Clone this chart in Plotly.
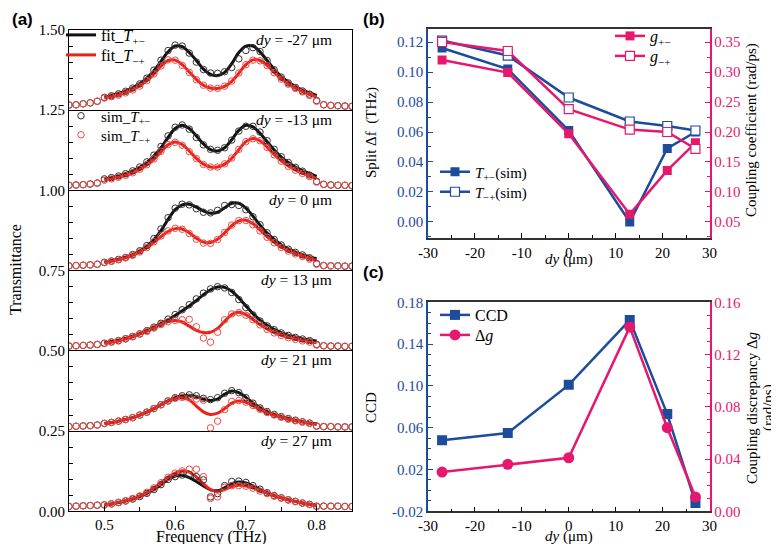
import plotly.graph_objects as go

# ---------------- Panel (a) data ----------------
FREQ_SIM = [0.45, 0.46, 0.47, 0.48, 0.49, 0.50, 0.51, 0.52, 0.53, 0.54, 0.55, 0.56, 0.57, 0.58,
            0.59, 0.60, 0.61, 0.62, 0.63, 0.64, 0.65, 0.66, 0.67, 0.68, 0.69, 0.70, 0.71, 0.72,
            0.73, 0.74, 0.75, 0.76, 0.77, 0.78, 0.79, 0.80, 0.81, 0.82, 0.83, 0.84, 0.85]
FREQ_FIT = [0.50, 0.51, 0.52, 0.53, 0.54, 0.55, 0.56, 0.57, 0.58, 0.59, 0.60, 0.61, 0.62, 0.63,
            0.64, 0.65, 0.66, 0.67, 0.68, 0.69, 0.70, 0.71, 0.72, 0.73, 0.74, 0.75, 0.76, 0.77,
            0.78, 0.79, 0.80]
FREQ_TICKS = [0.5, 0.6, 0.7, 0.8]

DY_LABELS = ["-27", "-13", "0", "13", "21", "27"]
OFFSETS = [1.25, 1.00, 0.75, 0.50, 0.25, 0.00]

FIT_PM = [
    [0.041, 0.046, 0.052, 0.060, 0.070, 0.083, 0.100, 0.123, 0.152, 0.182, 0.200, 0.198, 0.180, 0.155, 0.128, 0.112,
     0.108, 0.118, 0.145, 0.180, 0.200, 0.200, 0.182, 0.155, 0.128, 0.105, 0.088, 0.074, 0.063, 0.054, 0.046],
    [0.036, 0.040, 0.045, 0.052, 0.061, 0.072, 0.087, 0.107, 0.133, 0.165, 0.193, 0.203, 0.193, 0.170, 0.145, 0.127,
     0.123, 0.133, 0.158, 0.187, 0.203, 0.198, 0.178, 0.152, 0.126, 0.104, 0.087, 0.073, 0.062, 0.052, 0.044],
    [0.027, 0.031, 0.036, 0.042, 0.050, 0.061, 0.076, 0.097, 0.125, 0.160, 0.190, 0.205, 0.207, 0.198, 0.186, 0.179,
     0.182, 0.196, 0.210, 0.210, 0.195, 0.170, 0.142, 0.117, 0.097, 0.081, 0.068, 0.058, 0.050, 0.043, 0.037],
    [0.025, 0.029, 0.033, 0.039, 0.046, 0.054, 0.064, 0.074, 0.085, 0.096, 0.110, 0.125, 0.140, 0.157, 0.175, 0.190,
     0.199, 0.198, 0.186, 0.165, 0.140, 0.116, 0.096, 0.080, 0.067, 0.057, 0.049, 0.043, 0.038, 0.034, 0.031],
    [0.024, 0.027, 0.031, 0.036, 0.042, 0.050, 0.059, 0.070, 0.082, 0.094, 0.104, 0.110, 0.112, 0.108, 0.100, 0.095,
     0.100, 0.115, 0.125, 0.120, 0.105, 0.088, 0.073, 0.061, 0.052, 0.045, 0.039, 0.034, 0.029, 0.025, 0.022],
    [0.020, 0.023, 0.027, 0.032, 0.038, 0.046, 0.056, 0.068, 0.083, 0.099, 0.110, 0.112, 0.105, 0.093, 0.079, 0.067,
     0.064, 0.073, 0.086, 0.091, 0.088, 0.079, 0.068, 0.058, 0.049, 0.042, 0.036, 0.031, 0.026, 0.022, 0.019],
]
FIT_MP = [
    [0.038, 0.042, 0.048, 0.055, 0.064, 0.076, 0.092, 0.112, 0.137, 0.155, 0.156, 0.142, 0.119, 0.096, 0.078, 0.069,
     0.068, 0.074, 0.090, 0.115, 0.142, 0.157, 0.155, 0.140, 0.118, 0.098, 0.082, 0.069, 0.058, 0.049, 0.042],
    [0.032, 0.036, 0.041, 0.047, 0.055, 0.065, 0.079, 0.097, 0.120, 0.142, 0.151, 0.143, 0.123, 0.100, 0.082, 0.073,
     0.073, 0.082, 0.100, 0.127, 0.152, 0.162, 0.155, 0.135, 0.112, 0.092, 0.076, 0.064, 0.054, 0.045, 0.037],
    [0.025, 0.029, 0.034, 0.040, 0.048, 0.058, 0.071, 0.088, 0.106, 0.122, 0.131, 0.130, 0.118, 0.101, 0.089, 0.088,
     0.098, 0.118, 0.140, 0.155, 0.157, 0.146, 0.127, 0.106, 0.088, 0.073, 0.062, 0.053, 0.045, 0.038, 0.032],
    [0.023, 0.027, 0.031, 0.037, 0.044, 0.052, 0.061, 0.071, 0.082, 0.091, 0.095, 0.090, 0.077, 0.064, 0.057, 0.058,
     0.070, 0.092, 0.113, 0.120, 0.113, 0.098, 0.082, 0.068, 0.057, 0.049, 0.042, 0.037, 0.032, 0.028, 0.025],
    [0.024, 0.027, 0.031, 0.036, 0.042, 0.050, 0.059, 0.070, 0.082, 0.093, 0.101, 0.104, 0.097, 0.078, 0.060, 0.052,
     0.056, 0.070, 0.087, 0.094, 0.090, 0.079, 0.067, 0.057, 0.049, 0.043, 0.037, 0.032, 0.028, 0.024, 0.021],
    [0.020, 0.023, 0.028, 0.033, 0.040, 0.048, 0.059, 0.073, 0.089, 0.106, 0.119, 0.126, 0.122, 0.107, 0.086, 0.068,
     0.062, 0.068, 0.077, 0.081, 0.079, 0.073, 0.064, 0.056, 0.048, 0.042, 0.036, 0.031, 0.026, 0.022, 0.019],
]
SIM_PM = [
    [0.016, 0.017, 0.020, 0.023, 0.028,
     0.040, 0.045, 0.051, 0.059, 0.069, 0.082, 0.100, 0.125, 0.156, 0.186, 0.203, 0.200, 0.178, 0.150, 0.127, 0.116,
     0.115, 0.120, 0.133, 0.160, 0.186, 0.195, 0.183, 0.155, 0.126, 0.103, 0.085, 0.071, 0.060, 0.050, 0.030,
     0.017, 0.015, 0.014, 0.013, 0.012],
    [0.016, 0.017, 0.018, 0.020, 0.023,
     0.036, 0.040, 0.045, 0.052, 0.061, 0.073, 0.089, 0.110, 0.137, 0.170, 0.197, 0.204, 0.191, 0.165, 0.142, 0.128,
     0.125, 0.133, 0.157, 0.185, 0.200, 0.200, 0.182, 0.155, 0.128, 0.105, 0.087, 0.072, 0.060, 0.048, 0.028,
     0.019, 0.017, 0.016, 0.016, 0.015],
    [0.015, 0.016, 0.017, 0.018, 0.020,
     0.026, 0.030, 0.035, 0.041, 0.050, 0.062, 0.078, 0.100, 0.130, 0.165, 0.195, 0.207, 0.205, 0.193, 0.182, 0.180,
     0.188, 0.203, 0.206, 0.203, 0.190, 0.168, 0.143, 0.118, 0.097, 0.080, 0.067, 0.057, 0.049, 0.040, 0.022,
     0.016, 0.015, 0.015, 0.014, 0.014],
    [0.015, 0.016, 0.017, 0.018, 0.020,
     0.024, 0.028, 0.032, 0.038, 0.045, 0.053, 0.063, 0.074, 0.086, 0.099, 0.113, 0.128, 0.144, 0.162, 0.180, 0.193,
     0.200, 0.196, 0.182, 0.160, 0.135, 0.112, 0.093, 0.078, 0.066, 0.056, 0.048, 0.042, 0.037, 0.032, 0.020,
     0.016, 0.015, 0.015, 0.014, 0.014],
    [0.014, 0.015, 0.016, 0.017, 0.019,
     0.024, 0.027, 0.031, 0.036, 0.042, 0.050, 0.059, 0.070, 0.082, 0.094, 0.104, 0.110, 0.113, 0.110, 0.102, 0.098,
     0.104, 0.118, 0.126, 0.120, 0.104, 0.087, 0.072, 0.061, 0.052, 0.045, 0.039, 0.034, 0.029, 0.025, 0.016,
     0.014, 0.014, 0.013, 0.013, 0.013],
    [0.015, 0.016, 0.017, 0.018, 0.019,
     0.020, 0.023, 0.027, 0.032, 0.038, 0.046, 0.056, 0.068, 0.083, 0.099, 0.108, 0.113, 0.115, 0.108, 0.098, 0.045,
     0.055, 0.080, 0.093, 0.094, 0.090, 0.080, 0.069, 0.058, 0.049, 0.042, 0.036, 0.031, 0.026, 0.022, 0.016,
     0.016, 0.016, 0.016, 0.015, 0.015],
]
SIM_MP = [
    [0.016, 0.017, 0.020, 0.023, 0.028,
     0.038, 0.042, 0.047, 0.054, 0.063, 0.075, 0.092, 0.113, 0.138, 0.157, 0.156, 0.140, 0.118, 0.095, 0.078, 0.069,
     0.068, 0.075, 0.091, 0.116, 0.142, 0.156, 0.154, 0.139, 0.117, 0.097, 0.081, 0.068, 0.057, 0.046, 0.028,
     0.017, 0.015, 0.014, 0.013, 0.012],
    [0.016, 0.017, 0.018, 0.020, 0.023,
     0.032, 0.036, 0.041, 0.047, 0.055, 0.066, 0.080, 0.098, 0.122, 0.143, 0.150, 0.141, 0.121, 0.099, 0.081, 0.073,
     0.073, 0.083, 0.101, 0.128, 0.152, 0.161, 0.155, 0.134, 0.111, 0.091, 0.075, 0.063, 0.053, 0.043, 0.026,
     0.019, 0.017, 0.016, 0.016, 0.015],
    [0.015, 0.016, 0.017, 0.018, 0.020,
     0.025, 0.029, 0.034, 0.040, 0.048, 0.058, 0.072, 0.090, 0.108, 0.124, 0.132, 0.129, 0.116, 0.098, 0.086, 0.085,
     0.097, 0.119, 0.142, 0.156, 0.156, 0.143, 0.124, 0.104, 0.087, 0.072, 0.061, 0.052, 0.044, 0.036, 0.020,
     0.016, 0.015, 0.015, 0.014, 0.014],
    [0.015, 0.016, 0.017, 0.018, 0.020,
     0.023, 0.027, 0.031, 0.037, 0.044, 0.052, 0.061, 0.071, 0.082, 0.091, 0.095, 0.097, 0.098, 0.075, 0.040, 0.027,
     0.058, 0.097, 0.115, 0.119, 0.111, 0.097, 0.081, 0.067, 0.056, 0.048, 0.041, 0.036, 0.031, 0.027, 0.018,
     0.016, 0.015, 0.015, 0.014, 0.014],
    [0.014, 0.015, 0.016, 0.017, 0.019,
     0.024, 0.027, 0.031, 0.036, 0.042, 0.050, 0.059, 0.070, 0.082, 0.094, 0.102, 0.105, 0.104, 0.100, 0.096, 0.010,
     0.031, 0.067, 0.092, 0.095, 0.090, 0.080, 0.068, 0.058, 0.050, 0.043, 0.037, 0.032, 0.028, 0.024, 0.015,
     0.014, 0.014, 0.013, 0.013, 0.013],
    [0.015, 0.016, 0.017, 0.018, 0.019,
     0.020, 0.023, 0.028, 0.033, 0.040, 0.048, 0.059, 0.073, 0.089, 0.106, 0.119, 0.126, 0.131, 0.131, 0.108, 0.040,
     0.045, 0.075, 0.080, 0.080, 0.078, 0.072, 0.063, 0.055, 0.047, 0.041, 0.035, 0.030, 0.025, 0.021, 0.015,
     0.016, 0.016, 0.016, 0.015, 0.015],
]
T_TICKS = [0.0, 0.25, 0.5, 0.75, 1.0, 1.25, 1.5]

# ---------------- Panel (b) data ----------------
DY = [-27, -13, 0, 13, 21, 27]
DY_TICKS = [-30, -20, -10, 0, 10, 20, 30]
SPLIT_PM = [0.116, 0.102, 0.061, 0.000, 0.049, 0.060]
SPLIT_MP = [0.121, 0.111, 0.083, 0.067, 0.064, 0.061]
G_PM = [0.320, 0.299, 0.197, 0.063, 0.136, 0.182]
G_MP = [0.350, 0.335, 0.238, 0.204, 0.200, 0.172]
SPLIT_TICKS = [0.00, 0.02, 0.04, 0.06, 0.08, 0.10, 0.12]
G_TICKS = [0.05, 0.10, 0.15, 0.20, 0.25, 0.30, 0.35]

# ---------------- Panel (c) data ----------------
CCD = [0.048, 0.055, 0.101, 0.163, 0.073, -0.012]
DELTA_G = [0.030, 0.036, 0.041, 0.141, 0.064, 0.011]
CCD_TICKS = [-0.02, 0.02, 0.06, 0.10, 0.14, 0.18]
DG_TICKS = [0.00, 0.04, 0.08, 0.12, 0.16]

BLUE = "#1d4c9b"
PINK = "#e5186e"
BLACK = "#111111"
RED = "#e8231c"
RED_SIM = "#ef4a45"
SERIF = "Liberation Serif"
W, H = 779, 544


def px(x):
    return x / W


def py(y):
    return 1 - y / H


def lbl(vals, fmt):
    return [format(v, fmt).replace("\u2212", "-") for v in vals]


fig = go.Figure()

# ----- panel (a) traces -----
for k in range(6):
    off = OFFSETS[k]
    fig.add_trace(go.Scatter(
        x=FREQ_FIT, y=[v + off for v in FIT_PM[k]], mode="lines", line=dict(color=BLACK, width=3, shape="spline"),
        name="fit_<i>T</i><sub>+−</sub>", legend="legend", showlegend=(k == 0), xaxis="x", yaxis="y"))
    fig.add_trace(go.Scatter(
        x=FREQ_FIT, y=[v + off for v in FIT_MP[k]], mode="lines", line=dict(color=RED, width=3, shape="spline"),
        name="fit_<i>T</i><sub>−+</sub>", legend="legend2", showlegend=(k == 0), xaxis="x", yaxis="y"))
for k in range(6):
    off = OFFSETS[k]
    fig.add_trace(go.Scatter(
        x=FREQ_SIM, y=[v + off for v in SIM_PM[k]], mode="markers",
        marker=dict(symbol="circle-open", size=6.5, color="#333333", line=dict(width=1)),
        name="sim_<i>T</i><sub>+−</sub>", legend="legend3", showlegend=(k == 0), xaxis="x", yaxis="y"))
    fig.add_trace(go.Scatter(
        x=FREQ_SIM, y=[v + off for v in SIM_MP[k]], mode="markers",
        marker=dict(symbol="circle-open", size=6.5, color=RED_SIM, line=dict(width=1)),
        name="sim_<i>T</i><sub>−+</sub>", legend="legend4", showlegend=(k == 0), xaxis="x", yaxis="y"))

# ----- panel (b) traces -----
fig.add_trace(go.Scatter(x=DY, y=SPLIT_PM, mode="lines+markers", line=dict(color=BLUE, width=2.5),
                         marker=dict(symbol="square", size=9, color=BLUE),
                         name="<i>T</i><sub>+−</sub>(sim)", legend="legend5", xaxis="x2", yaxis="y2"))
fig.add_trace(go.Scatter(x=DY, y=SPLIT_MP, mode="lines+markers", line=dict(color=BLUE, width=2.5),
                         marker=dict(symbol="square", size=9, color="white", line=dict(color=BLUE, width=1.2)),
                         name="<i>T</i><sub>−+</sub>(sim)", legend="legend6", xaxis="x2", yaxis="y2"))
fig.add_trace(go.Scatter(x=DY, y=G_PM, mode="lines+markers", line=dict(color=PINK, width=2.5),
                         marker=dict(symbol="square", size=9, color=PINK),
                         name="<i>g</i><sub>+−</sub>", legend="legend7", xaxis="x2", yaxis="y3"))
fig.add_trace(go.Scatter(x=DY, y=G_MP, mode="lines+markers", line=dict(color=PINK, width=2.5),
                         marker=dict(symbol="square", size=9, color="white", line=dict(color=PINK, width=1.2)),
                         name="<i>g</i><sub>−+</sub>", legend="legend8", xaxis="x2", yaxis="y3"))

# ----- panel (c) traces -----
fig.add_trace(go.Scatter(x=DY, y=CCD, mode="lines+markers", line=dict(color=BLUE, width=2.5),
                         marker=dict(symbol="square", size=10, color=BLUE),
                         name="CCD", legend="legend9", xaxis="x3", yaxis="y4"))
fig.add_trace(go.Scatter(x=DY, y=DELTA_G, mode="lines+markers", line=dict(color=PINK, width=2.5),
                         marker=dict(symbol="circle", size=11, color=PINK),
                         name="Δ<i>g</i>", legend="legend10", xaxis="x3", yaxis="y5"))

tickfont = dict(family=SERIF, size=15, color="black")

a_dom_x = [px(61), px(344)]
a_dom_y = [py(503.3), py(22)]
b_dom_x = [px(420), px(701.5)]
b_dom_y = [py(230), py(21)]
c_dom_x = [px(420), px(701.5)]
c_dom_y = [py(503.3), py(294.3)]


def leg(x, y, size=15):
    return dict(x=px(x), y=py(y), bgcolor="rgba(0,0,0,0)", borderwidth=0,
                font=dict(family=SERIF, size=size, color="black"),
                xanchor="left", yanchor="middle", tracegroupgap=0, itemwidth=30)


fig.update_layout(
    template="none",
    width=W, height=H, margin=dict(l=0, r=0, t=0, b=0, pad=0),
    paper_bgcolor="white", plot_bgcolor="white",
    font=dict(family=SERIF, size=15, color="black"),
    xaxis=dict(domain=a_dom_x, anchor="y", range=[0.45, 0.85], tickmode="array", tickvals=FREQ_TICKS,
               ticktext=lbl(FREQ_TICKS, ".1f"), automargin=False,
               ticks="inside", ticklen=5, tickcolor="black", showline=True, linecolor="black", linewidth=1.2,
               mirror=True, showgrid=False, zeroline=False, tickfont=tickfont,
               minor=dict(dtick=0.05, tick0=0.45, ticks="inside", ticklen=4, tickcolor="black", showgrid=False)),
    yaxis=dict(domain=a_dom_y, anchor="x", range=[0, 1.5], tickmode="array", tickvals=T_TICKS,
               ticktext=lbl(T_TICKS, ".2f"), automargin=False,
               ticks="inside", ticklen=5, tickcolor="black", showline=True, linecolor="black",
               linewidth=1.2, mirror=True, showgrid=True, gridcolor="black", gridwidth=1.2, zeroline=False,
               tickfont=tickfont,
               minor=dict(dtick=0.05, tick0=0, ticks="inside", ticklen=4, tickcolor="black", showgrid=False)),
    xaxis2=dict(domain=b_dom_x, anchor="y2", range=[-30, 30], tickmode="array", tickvals=DY_TICKS,
                ticktext=lbl(DY_TICKS, "d"), automargin=False,
                ticks="inside", ticklen=5, tickcolor="black", showline=True, linecolor="#333333", linewidth=1.5,
                mirror=True, showgrid=False, zeroline=False, tickfont=tickfont,
                minor=dict(dtick=5, tick0=-30, ticks="inside", ticklen=3, tickcolor="black", showgrid=False)),
    yaxis2=dict(domain=b_dom_y, anchor="x2", range=[-0.0107, 0.1287], tickmode="array", tickvals=SPLIT_TICKS,
                ticktext=lbl(SPLIT_TICKS, ".2f"), automargin=False,
                ticks="inside", ticklen=5, tickcolor=BLUE, showline=True, linecolor=BLUE,
                linewidth=1.5, showgrid=False, zeroline=False, tickfont=dict(family=SERIF, size=15, color=BLUE),
                minor=dict(dtick=0.01, tick0=0, ticks="inside", ticklen=3, tickcolor=BLUE, showgrid=False)),
    yaxis3=dict(overlaying="y2", anchor="x2", side="right", range=[0.0233, 0.3717], tickmode="array",
                tickvals=G_TICKS, ticktext=lbl(G_TICKS, ".2f"), automargin=False,
                ticks="inside", ticklen=5, tickcolor=PINK, showline=True,
                linecolor=PINK, linewidth=1.5, showgrid=False, zeroline=False,
                tickfont=dict(family=SERIF, size=15, color=PINK),
                minor=dict(dtick=0.025, tick0=0.05, ticks="inside", ticklen=3, tickcolor=PINK, showgrid=False)),
    xaxis3=dict(domain=c_dom_x, anchor="y4", range=[-30, 30], tickmode="array", tickvals=DY_TICKS,
                ticktext=lbl(DY_TICKS, "d"), automargin=False,
                ticks="inside", ticklen=5, tickcolor="black", showline=True, linecolor="#333333", linewidth=1.5,
                mirror=True, showgrid=False, zeroline=False, tickfont=tickfont,
                minor=dict(dtick=5, tick0=-30, ticks="inside", ticklen=3, tickcolor="black", showgrid=False)),
    yaxis4=dict(domain=c_dom_y, anchor="x3", range=[-0.02, 0.18], tickmode="array", tickvals=CCD_TICKS,
                ticktext=lbl(CCD_TICKS, ".2f"), automargin=False,
                ticks="inside", ticklen=5, tickcolor=BLUE, showline=True, linecolor=BLUE,
                linewidth=1.5, showgrid=False, zeroline=False, tickfont=dict(family=SERIF, size=15, color=BLUE),
                minor=dict(dtick=0.01, tick0=-0.02, ticks="inside", ticklen=3, tickcolor=BLUE, showgrid=False)),
    yaxis5=dict(overlaying="y4", anchor="x3", side="right", range=[0, 0.16], tickmode="array",
                tickvals=DG_TICKS, ticktext=lbl(DG_TICKS, ".2f"), automargin=False,
                ticks="inside", ticklen=5, tickcolor=PINK, showline=True,
                linecolor=PINK, linewidth=1.5, showgrid=False, zeroline=False,
                tickfont=dict(family=SERIF, size=15, color=PINK),
                minor=dict(dtick=0.01, tick0=0, ticks="inside", ticklen=3, tickcolor=PINK, showgrid=False)),
    legend=leg(53, 27, 16),
    legend2=leg(53, 47, 16),
    legend3=leg(53, 108, 15),
    legend4=leg(53, 127, 15),
    legend5=leg(427, 164),
    legend6=leg(427, 184),
    legend7=leg(602, 28, 16),
    legend8=leg(602, 48, 16),
    legend9=leg(427, 307, 16),
    legend10=leg(427, 327, 16),
)


def note(x, y, text, size=15, angle=0, family=SERIF, xanchor="center"):
    return dict(x=px(x), y=py(y), xref="paper", yref="paper", xanchor=xanchor, yanchor="middle",
                text=text, textangle=angle, showarrow=False, font=dict(family=family, size=size, color="black"))


ann = []
for k in range(6):
    ann.append(note(326, 31 + 80.2 * k, f"<i>dy</i> = {DY_LABELS[k]} μm", size=15.5, xanchor="right"))
ann += [
    note(7, 262, "Transmittance", size=16, angle=-90),
    note(203, 529, "Frequency (THz)", size=16),
    note(364, 125, "Split Δf  (THz)", angle=-90),
    note(744, 122, "Coupling coefficient (rad/ps)", angle=-90),
    note(561, 251, "<i>dy</i> (μm)"),
    note(363, 400, "CCD", angle=-90),
    note(744, 400, "Coupling discrepancy Δ<i>g</i>", angle=-90),
    note(760, 400, "(rad/ps)", angle=-90),
    note(561, 528, "<i>dy</i> (μm)"),
    note(2, 11, "<b>(a)</b>", size=17, family="Liberation Sans", xanchor="left"),
    note(353, 11, "<b>(b)</b>", size=17, family="Liberation Sans", xanchor="left"),
    note(353, 265, "<b>(c)</b>", size=17, family="Liberation Sans", xanchor="left"),
]
fig.update_layout(annotations=ann)

fig.write_html("out.html")
